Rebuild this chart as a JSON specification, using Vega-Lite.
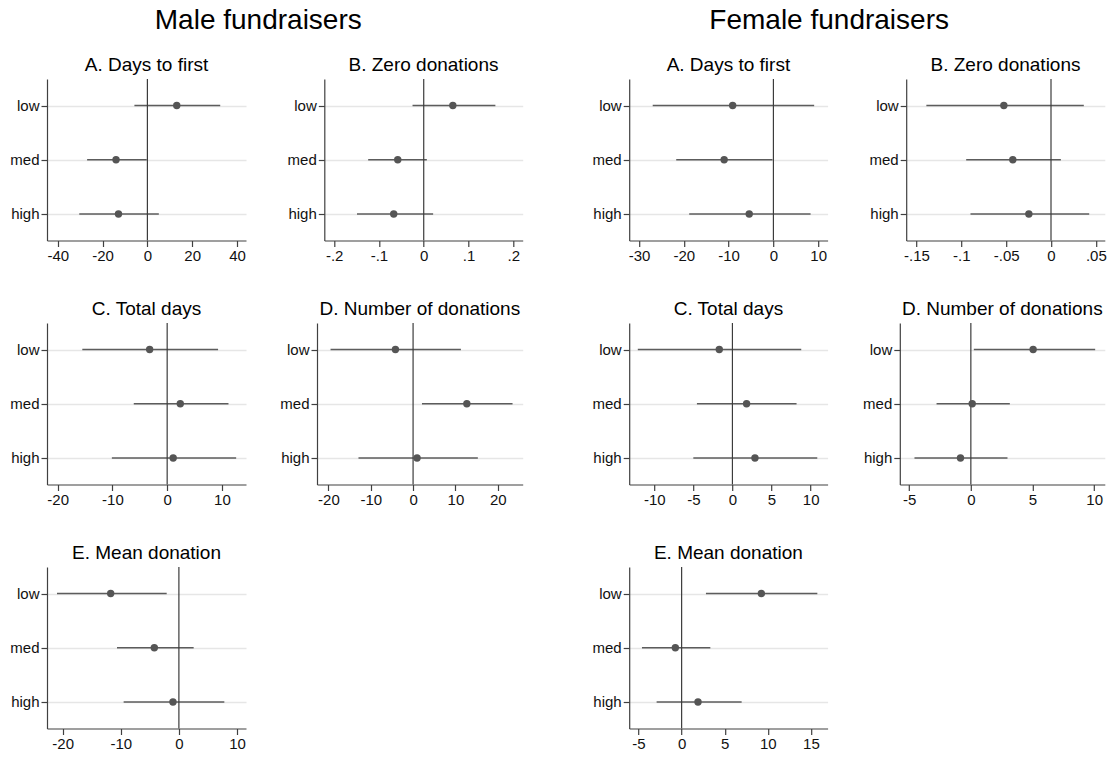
{
  "$schema": "https://vega.github.io/schema/vega-lite/v6.json",
  "padding": {"left": 9, "top": 7, "right": 5, "bottom": 5},
  "background": "white",
  "data": {"values": [
    {"g": "M", "p": "A", "lvl": "low", "est": 13.1, "lo": -5.8, "hi": 32.5},
    {"g": "M", "p": "A", "lvl": "med", "est": -14.0, "lo": -26.9, "hi": -0.3},
    {"g": "M", "p": "A", "lvl": "high", "est": -12.9, "lo": -30.4, "hi": 5.1},
    {"g": "M", "p": "B", "lvl": "low", "est": 0.065, "lo": -0.025, "hi": 0.16},
    {"g": "M", "p": "B", "lvl": "med", "est": -0.058, "lo": -0.124, "hi": 0.007},
    {"g": "M", "p": "B", "lvl": "high", "est": -0.067, "lo": -0.149, "hi": 0.021},
    {"g": "F", "p": "A", "lvl": "low", "est": -9.1, "lo": -26.95, "hi": 9.1},
    {"g": "F", "p": "A", "lvl": "med", "est": -11.0, "lo": -21.7, "hi": -0.2},
    {"g": "F", "p": "A", "lvl": "high", "est": -5.4, "lo": -18.8, "hi": 8.3},
    {"g": "F", "p": "B", "lvl": "low", "est": -0.0526, "lo": -0.139, "hi": 0.0366},
    {"g": "F", "p": "B", "lvl": "med", "est": -0.0426, "lo": -0.0946, "hi": 0.011},
    {"g": "F", "p": "B", "lvl": "high", "est": -0.0247, "lo": -0.0898, "hi": 0.0426},
    {"g": "M", "p": "C", "lvl": "low", "est": -3.2, "lo": -15.5, "hi": 9.3},
    {"g": "M", "p": "C", "lvl": "med", "est": 2.4, "lo": -6.1, "hi": 11.2},
    {"g": "M", "p": "C", "lvl": "high", "est": 1.1, "lo": -10.1, "hi": 12.6},
    {"g": "M", "p": "D", "lvl": "low", "est": -4.17, "lo": -19.5, "hi": 11.3},
    {"g": "M", "p": "D", "lvl": "med", "est": 12.7, "lo": 2.1, "hi": 23.5},
    {"g": "M", "p": "D", "lvl": "high", "est": 0.94, "lo": -12.9, "hi": 15.3},
    {"g": "F", "p": "C", "lvl": "low", "est": -1.68, "lo": -12.1, "hi": 8.8},
    {"g": "F", "p": "C", "lvl": "med", "est": 1.81, "lo": -4.54, "hi": 8.2},
    {"g": "F", "p": "C", "lvl": "high", "est": 2.88, "lo": -5.0, "hi": 10.85},
    {"g": "F", "p": "D", "lvl": "low", "est": 5.05, "lo": 0.24, "hi": 10.08},
    {"g": "F", "p": "D", "lvl": "med", "est": 0.11, "lo": -2.78, "hi": 3.16},
    {"g": "F", "p": "D", "lvl": "high", "est": -0.84, "lo": -4.57, "hi": 2.97},
    {"g": "M", "p": "E", "lvl": "low", "est": -11.74, "lo": -20.98, "hi": -2.1},
    {"g": "M", "p": "E", "lvl": "med", "est": -4.23, "lo": -10.65, "hi": 2.54},
    {"g": "M", "p": "E", "lvl": "high", "est": -1.02, "lo": -9.51, "hi": 7.82},
    {"g": "F", "p": "E", "lvl": "low", "est": 9.25, "lo": 2.82, "hi": 15.74},
    {"g": "F", "p": "E", "lvl": "med", "est": -0.73, "lo": -4.6, "hi": 3.33},
    {"g": "F", "p": "E", "lvl": "high", "est": 1.9, "lo": -2.9, "hi": 6.96}
  ]},
  "spacing": 68.2,
  "hconcat": [
    {
      "title": {"text": "Male fundraisers", "fontSize": 28, "frame": "bounds", "offset": 21, "dx": -8},
      "spacing": 36,
      "vconcat": [
        {"bounds": "flush", "spacing": 78.3, "hconcat": [
          {"width": 199, "height": 161.5, "title": "A. Days to first", "layer": [
            {"transform": [{"filter": "datum.g === 'M' && datum.p === 'A'"}], "mark": {"type": "rule", "color": "#5c5c5c", "strokeWidth": 1.6},
             "encoding": {"y": {"field": "lvl", "type": "nominal", "sort": ["low", "med", "high"], "scale": {"type": "point", "padding": 0.49}},
                          "x": {"field": "lo", "type": "quantitative", "scale": {"domain": [-44.8, 44], "nice": false, "zero": false}, "axis": {"values": [-40, -20, 0, 20, 40]}}, "x2": {"field": "hi"}}},
            {"data": {"values": [{}]}, "mark": {"type": "rule", "color": "#3c3c3c", "strokeWidth": 1.2}, "encoding": {"x": {"datum": 0}}},
            {"transform": [{"filter": "datum.g === 'M' && datum.p === 'A'"}], "mark": {"type": "circle", "color": "#555555", "opacity": 1, "size": 55},
             "encoding": {"y": {"field": "lvl", "type": "nominal", "sort": ["low", "med", "high"]}, "x": {"field": "est", "type": "quantitative"}}}
          ]},
          {"width": 198.4, "height": 161.5, "title": "B. Zero donations", "layer": [
            {"transform": [{"filter": "datum.g === 'M' && datum.p === 'B'"}], "mark": {"type": "rule", "color": "#5c5c5c", "strokeWidth": 1.6},
             "encoding": {"y": {"field": "lvl", "type": "nominal", "sort": ["low", "med", "high"], "scale": {"type": "point", "padding": 0.49}},
                          "x": {"field": "lo", "type": "quantitative", "scale": {"domain": [-0.222, 0.221], "nice": false, "zero": false}, "axis": {"values": [-0.2, -0.1, 0, 0.1, 0.2]}}, "x2": {"field": "hi"}}},
            {"data": {"values": [{}]}, "mark": {"type": "rule", "color": "#3c3c3c", "strokeWidth": 1.2}, "encoding": {"x": {"datum": 0}}},
            {"transform": [{"filter": "datum.g === 'M' && datum.p === 'B'"}], "mark": {"type": "circle", "color": "#555555", "opacity": 1, "size": 55},
             "encoding": {"y": {"field": "lvl", "type": "nominal", "sort": ["low", "med", "high"]}, "x": {"field": "est", "type": "quantitative"}}}
          ]}
        ]},
        {"bounds": "flush", "spacing": 71, "hconcat": [
          {"width": 199, "height": 161.5, "title": "C. Total days", "layer": [
            {"transform": [{"filter": "datum.g === 'M' && datum.p === 'C'"}], "mark": {"type": "rule", "color": "#5c5c5c", "strokeWidth": 1.6},
             "encoding": {"y": {"field": "lvl", "type": "nominal", "sort": ["low", "med", "high"], "scale": {"type": "point", "padding": 0.49}},
                          "x": {"field": "lo", "type": "quantitative", "scale": {"domain": [-21.95, 14.4], "nice": false, "zero": false}, "axis": {"values": [-20, -10, 0, 10]}}, "x2": {"field": "hi"}}},
            {"data": {"values": [{}]}, "mark": {"type": "rule", "color": "#3c3c3c", "strokeWidth": 1.2}, "encoding": {"x": {"datum": 0}}},
            {"transform": [{"filter": "datum.g === 'M' && datum.p === 'C'"}], "mark": {"type": "circle", "color": "#555555", "opacity": 1, "size": 55},
             "encoding": {"y": {"field": "lvl", "type": "nominal", "sort": ["low", "med", "high"]}, "x": {"field": "est", "type": "quantitative"}}}
          ]},
          {"width": 205.7, "height": 161.5, "title": "D. Number of donations", "layer": [
            {"transform": [{"filter": "datum.g === 'M' && datum.p === 'D'"}], "mark": {"type": "rule", "color": "#5c5c5c", "strokeWidth": 1.6},
             "encoding": {"y": {"field": "lvl", "type": "nominal", "sort": ["low", "med", "high"], "scale": {"type": "point", "padding": 0.49}},
                          "x": {"field": "lo", "type": "quantitative", "scale": {"domain": [-22.7, 25.9], "nice": false, "zero": false}, "axis": {"values": [-20, -10, 0, 10, 20]}}, "x2": {"field": "hi"}}},
            {"data": {"values": [{}]}, "mark": {"type": "rule", "color": "#3c3c3c", "strokeWidth": 1.2}, "encoding": {"x": {"datum": 0}}},
            {"transform": [{"filter": "datum.g === 'M' && datum.p === 'D'"}], "mark": {"type": "circle", "color": "#555555", "opacity": 1, "size": 55},
             "encoding": {"y": {"field": "lvl", "type": "nominal", "sort": ["low", "med", "high"]}, "x": {"field": "est", "type": "quantitative"}}}
          ]}
        ]},
        {"width": 199, "height": 161.5, "title": "E. Mean donation", "layer": [
          {"transform": [{"filter": "datum.g === 'M' && datum.p === 'E'"}], "mark": {"type": "rule", "color": "#5c5c5c", "strokeWidth": 1.6},
           "encoding": {"y": {"field": "lvl", "type": "nominal", "sort": ["low", "med", "high"], "scale": {"type": "point", "padding": 0.49}},
                        "x": {"field": "lo", "type": "quantitative", "scale": {"domain": [-22.7, 11.55], "nice": false, "zero": false}, "axis": {"values": [-20, -10, 0, 10]}}, "x2": {"field": "hi"}}},
          {"data": {"values": [{}]}, "mark": {"type": "rule", "color": "#3c3c3c", "strokeWidth": 1.2}, "encoding": {"x": {"datum": 0}}},
          {"transform": [{"filter": "datum.g === 'M' && datum.p === 'E'"}], "mark": {"type": "circle", "color": "#555555", "opacity": 1, "size": 55},
           "encoding": {"y": {"field": "lvl", "type": "nominal", "sort": ["low", "med", "high"]}, "x": {"field": "est", "type": "quantitative"}}}
        ]}
      ]
    },
    {
      "title": {"text": "Female fundraisers", "fontSize": 28, "frame": "bounds", "offset": 21, "dx": -20},
      "spacing": 36,
      "vconcat": [
        {"bounds": "flush", "spacing": 78, "hconcat": [
          {"width": 198.4, "height": 161.5, "title": "A. Days to first", "layer": [
            {"transform": [{"filter": "datum.g === 'F' && datum.p === 'A'"}], "mark": {"type": "rule", "color": "#5c5c5c", "strokeWidth": 1.6},
             "encoding": {"y": {"field": "lvl", "type": "nominal", "sort": ["low", "med", "high"], "scale": {"type": "point", "padding": 0.49}},
                          "x": {"field": "lo", "type": "quantitative", "scale": {"domain": [-32.2, 12.1], "nice": false, "zero": false}, "axis": {"values": [-30, -20, -10, 0, 10]}}, "x2": {"field": "hi"}}},
            {"data": {"values": [{}]}, "mark": {"type": "rule", "color": "#3c3c3c", "strokeWidth": 1.2}, "encoding": {"x": {"datum": 0}}},
            {"transform": [{"filter": "datum.g === 'F' && datum.p === 'A'"}], "mark": {"type": "circle", "color": "#555555", "opacity": 1, "size": 55},
             "encoding": {"y": {"field": "lvl", "type": "nominal", "sort": ["low", "med", "high"]}, "x": {"field": "est", "type": "quantitative"}}}
          ]},
          {"width": 198.6, "height": 161.5, "title": "B. Zero donations", "layer": [
            {"transform": [{"filter": "datum.g === 'F' && datum.p === 'B'"}], "mark": {"type": "rule", "color": "#5c5c5c", "strokeWidth": 1.6},
             "encoding": {"y": {"field": "lvl", "type": "nominal", "sort": ["low", "med", "high"], "scale": {"type": "point", "padding": 0.49}},
                          "x": {"field": "lo", "type": "quantitative", "scale": {"domain": [-0.1615, 0.06], "nice": false, "zero": false}, "axis": {"values": [-0.15, -0.1, -0.05, 0, 0.05]}}, "x2": {"field": "hi"}}},
            {"data": {"values": [{}]}, "mark": {"type": "rule", "color": "#3c3c3c", "strokeWidth": 1.2}, "encoding": {"x": {"datum": 0}}},
            {"transform": [{"filter": "datum.g === 'F' && datum.p === 'B'"}], "mark": {"type": "circle", "color": "#555555", "opacity": 1, "size": 55},
             "encoding": {"y": {"field": "lvl", "type": "nominal", "sort": ["low", "med", "high"]}, "x": {"field": "est", "type": "quantitative"}}}
          ]}
        ]},
        {"bounds": "flush", "spacing": 71.6, "hconcat": [
          {"width": 198.4, "height": 161.5, "title": "C. Total days", "layer": [
            {"transform": [{"filter": "datum.g === 'F' && datum.p === 'C'"}], "mark": {"type": "rule", "color": "#5c5c5c", "strokeWidth": 1.6},
             "encoding": {"y": {"field": "lvl", "type": "nominal", "sort": ["low", "med", "high"], "scale": {"type": "point", "padding": 0.49}},
                          "x": {"field": "lo", "type": "quantitative", "scale": {"domain": [-13.2, 12.17], "nice": false, "zero": false}, "axis": {"values": [-10, -5, 0, 5, 10]}}, "x2": {"field": "hi"}}},
            {"data": {"values": [{}]}, "mark": {"type": "rule", "color": "#3c3c3c", "strokeWidth": 1.2}, "encoding": {"x": {"datum": 0}}},
            {"transform": [{"filter": "datum.g === 'F' && datum.p === 'C'"}], "mark": {"type": "circle", "color": "#555555", "opacity": 1, "size": 55},
             "encoding": {"y": {"field": "lvl", "type": "nominal", "sort": ["low", "med", "high"]}, "x": {"field": "est", "type": "quantitative"}}}
          ]},
          {"width": 205, "height": 161.5, "title": "D. Number of donations", "layer": [
            {"transform": [{"filter": "datum.g === 'F' && datum.p === 'D'"}], "mark": {"type": "rule", "color": "#5c5c5c", "strokeWidth": 1.6},
             "encoding": {"y": {"field": "lvl", "type": "nominal", "sort": ["low", "med", "high"], "scale": {"type": "point", "padding": 0.49}},
                          "x": {"field": "lo", "type": "quantitative", "scale": {"domain": [-5.76, 10.86], "nice": false, "zero": false}, "axis": {"values": [-5, 0, 5, 10]}}, "x2": {"field": "hi"}}},
            {"data": {"values": [{}]}, "mark": {"type": "rule", "color": "#3c3c3c", "strokeWidth": 1.2}, "encoding": {"x": {"datum": 0}}},
            {"transform": [{"filter": "datum.g === 'F' && datum.p === 'D'"}], "mark": {"type": "circle", "color": "#555555", "opacity": 1, "size": 55},
             "encoding": {"y": {"field": "lvl", "type": "nominal", "sort": ["low", "med", "high"]}, "x": {"field": "est", "type": "quantitative"}}}
          ]}
        ]},
        {"width": 198.4, "height": 161.5, "title": "E. Mean donation", "layer": [
          {"transform": [{"filter": "datum.g === 'F' && datum.p === 'E'"}], "mark": {"type": "rule", "color": "#5c5c5c", "strokeWidth": 1.6},
           "encoding": {"y": {"field": "lvl", "type": "nominal", "sort": ["low", "med", "high"], "scale": {"type": "point", "padding": 0.49}},
                        "x": {"field": "lo", "type": "quantitative", "scale": {"domain": [-6.08, 16.93], "nice": false, "zero": false}, "axis": {"values": [-5, 0, 5, 10, 15]}}, "x2": {"field": "hi"}}},
          {"data": {"values": [{}]}, "mark": {"type": "rule", "color": "#3c3c3c", "strokeWidth": 1.2}, "encoding": {"x": {"datum": 0}}},
          {"transform": [{"filter": "datum.g === 'F' && datum.p === 'E'"}], "mark": {"type": "circle", "color": "#555555", "opacity": 1, "size": 55},
           "encoding": {"y": {"field": "lvl", "type": "nominal", "sort": ["low", "med", "high"]}, "x": {"field": "est", "type": "quantitative"}}}
        ]}
      ]
    }
  ],
  "config": {
    "font": "Liberation Sans",
    "view": {"stroke": null},
    "title": {"fontSize": 19, "fontWeight": "normal", "color": "#000000", "frame": "group", "offset": 3, "anchor": "middle"},
    "axis": {"title": null, "labelFontSize": 15, "labelColor": "#111111", "domainColor": "#404040", "tickColor": "#404040", "tickSize": 6, "labelPadding": 2, "domainWidth": 1.2, "tickWidth": 1.2, "grid": false, "labelFlush": false, "labelOverlap": false, "labelBound": false},
    "axisX": {"labelExpr": "datum.value == 0 ? '0' : (datum.value < 0 ? '-' : '') + replace(toString(abs(datum.value)), '0.', '.')"},
    "axisY": {"grid": true, "gridColor": "#e6e6e6", "gridWidth": 1.5}
  }
}
